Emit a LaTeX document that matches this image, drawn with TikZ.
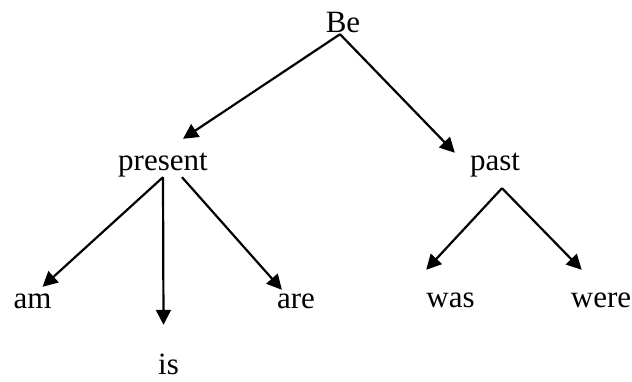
\documentclass[tikz,border=0pt]{standalone}
\usepackage{fontspec}
\setmainfont{Liberation Serif}
\usetikzlibrary{positioning,arrows.meta}

\begin{document}
\begin{tikzpicture}[on grid, >={Triangle[length=15pt,width=15pt]},
    word/.style={inner sep=0pt, text height=21pt, text depth=2pt,
      font=\fontsize{31pt}{37pt}\selectfont}]
    \useasboundingbox (0,0) rectangle (632pt,-381pt);

    \node[word, anchor=base] (be) at (343pt,-32pt) {Be};
    \node[word] (present) [below left=138pt and 180pt of be] {present};
    \node[word] (past) [below right=138pt and 152pt of be] {past};
    \node[word] (am) [below left=138pt and 130.5pt of present] {am};
    \node[word] (is) [below right=204pt and 5.5pt of present] {is};
    \node[word] (are) [below right=138pt and 133pt of present] {are};
    \node[word] (was) [below left=137pt and 44.5pt of past] {was};
    \node[word] (were) [below right=137pt and 106pt of past] {were};

    \path[->, line width=2.2pt]
    ([xshift=-3pt]be.south) edge ([xshift=20pt,yshift=10pt]present.north)
    ([xshift=-3pt]be.south) edge ([xshift=-15pt,yshift=-4pt]past.north west)
    ([yshift=-5pt]present.south) edge ([xshift=10pt]am.north)
    ([yshift=-5pt]present.south) edge ([xshift=-5pt,yshift=28pt]is.north)
    ([xshift=19pt,yshift=-5pt]present.south) edge ([xshift=5pt,yshift=-3pt]are.north west)
    ([xshift=7pt,yshift=-16pt]past.south) edge ([yshift=16pt]was.north west)
    ([xshift=7pt,yshift=-16pt]past.south) edge ([xshift=11pt,yshift=16pt]were.north west);
\end{tikzpicture}
\end{document}
